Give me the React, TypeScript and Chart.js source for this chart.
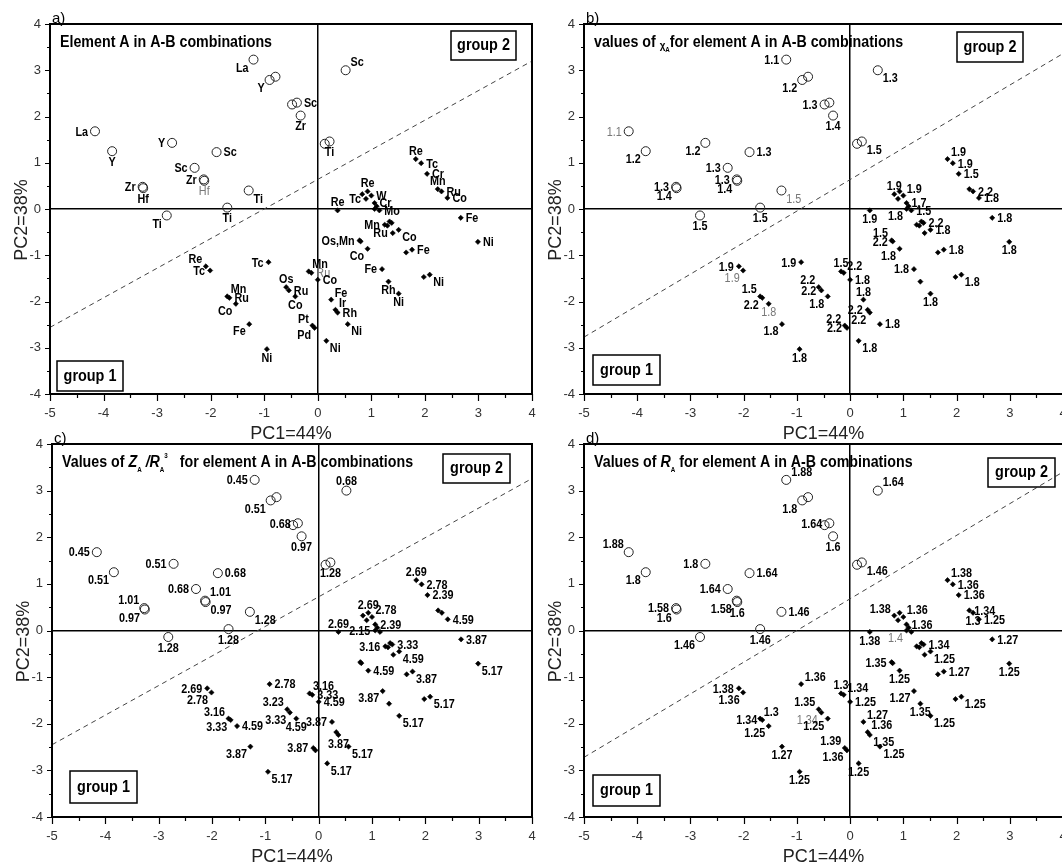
import React, { useEffect, useRef } from 'react';
import { Chart, registerables } from 'chart.js';

Chart.register(...registerables);

const FONT = "'Liberation Sans', Arial, Helvetica, sans-serif";

// ---------- axis ranges ----------
const xTickRange = [-5, 4];
const yTickRange = [-4, 4];

// ---------- open circles (A = La, Y, Sc, Zr, Hf, Ti) ----------
const openPC1 = [-1.20, -0.90, -0.79, -4.16, -3.84, -2.72, -1.89, -2.30, -2.13, -2.12, -3.27, -3.26, -1.29, -2.82, -1.69, 0.52, -0.48, -0.39, -0.32, 0.13, 0.22];
const openPC2 = [3.23, 2.79, 2.86, 1.68, 1.25, 1.43, 1.23, 0.89, 0.64, 0.61, 0.48, 0.45, 0.40, -0.14, 0.03, 3.00, 2.26, 2.30, 2.02, 1.41, 1.46];

// ---------- filled diamonds ----------
const filledPC1 = [
  1.83, 1.93, 2.04, 2.24, 2.31, 2.42,
  0.83, 0.93, 0.90, 1.00, 1.06, 1.10, 1.06, 1.15,
  0.37,
  1.25, 1.30, 1.34, 1.38, 1.40, 1.51,
  0.78, 0.93, 1.65, 1.76, 1.20, 1.32, 1.98, 2.09, 1.51, 2.67, 2.99,
  -0.92, -0.17, -0.12, 0.00, -0.59, -0.54, -0.42, 0.25, 0.33, 0.37, 0.56, -0.10, -0.06, 0.16, -0.95,
  -2.09, -2.01, -1.69, -1.65, -1.53, -1.28,
  0.80,
];
const filledPC2 = [
  1.08, 0.99, 0.76, 0.43, 0.38, 0.24,
  0.32, 0.38, 0.22, 0.29, 0.13, 0.06, 0.00, -0.03,
  -0.03,
  -0.34, -0.36, -0.27, -0.30, -0.52, -0.45,
  -0.68, -0.86, -0.94, -0.88, -1.30, -1.57, -1.47, -1.42, -1.83, -0.19, -0.71,
  -1.15, -1.35, -1.38, -1.53, -1.69, -1.76, -1.89, -1.96, -2.18, -2.24, -2.49, -2.52, -2.57, -2.85, -3.03,
  -1.24, -1.33, -1.89, -1.92, -2.05, -2.49,
  -0.70,
];

// ---------- dashed group boundary ----------
const boundaryPC1 = [-5, 4];
const boundaryA_PC2 = [-2.56, 3.2];
const boundaryB_PC2 = [-2.77, 3.36];
const boundaryC_PC2 = [-2.45, 3.26];
const boundaryD_PC2 = [-2.72, 3.40];

// ---------- point labels ----------
const labelsA_open = ['La', 'Y', '', 'La', 'Y', 'Y', 'Sc', 'Sc', 'Zr', 'Hf', 'Zr', 'Hf', 'Ti', 'Ti', 'Ti', 'Sc', '', 'Sc', 'Zr', '', 'Ti'];
const labelsB_open = ['1.1', '1.2', '', '1.1', '1.2', '1.2', '1.3', '1.3', '1.3', '1.4', '1.3', '1.4', '1.5', '1.5', '1.5', '1.3', '1.3', '', '1.4', '', '1.5'];
const labelsC_open = ['0.45', '0.51', '', '0.45', '0.51', '0.51', '0.68', '0.68', '1.01', '0.97', '1.01', '0.97', '1.28', '1.28', '1.28', '0.68', '', '0.68', '0.97', '', '1.28'];
const labelsD_open = ['1.88', '1.8', '', '1.88', '1.8', '1.8', '1.64', '1.64', '1.58', '1.6', '1.58', '1.6', '1.46', '1.46', '1.46', '1.64', '', '1.64', '1.6', '', '1.46'];

const labelsA_filled = [
  'Re', 'Tc', 'Cr', 'Mn', 'Ru', 'Co',
  '', 'Re', 'Tc', 'W', 'Cr', '', '', 'Mo',
  'Re',
  'Mn', '', '', '', 'Ru', 'Co',
  'Os,Mn', 'Co', '', 'Fe', 'Fe', 'Rh', '', 'Ni', 'Ni', 'Fe', 'Ni',
  'Tc', 'Mn', 'Ru', 'Co', 'Os', 'Ru', 'Co', 'Fe', 'Ir', 'Rh', 'Ni', 'Pt', 'Pd', 'Ni', 'Ni',
  'Re', 'Tc', 'Mn', 'Ru', 'Co', 'Fe',
  '',
];
const labelsB_filled = [
  '1.9', '1.9', '1.5', '', '2.2', '1.8',
  '1.9', '', '', '1.9', '1.7', '', '1.8', '1.5',
  '1.9',
  '', '', '', '2.2', '', '1.8',
  '1.5', '1.8', '', '1.8', '1.8', '', '', '1.8', '1.8', '1.8', '1.8',
  '1.9', '1.5', '2.2', '1.8', '2.2', '2.2', '1.8', '1.8', '2.2', '2.2', '1.8', '2.2', '2.2', '1.8', '1.8',
  '1.9', '1.9', '1.5', '2.2', '1.8', '1.8',
  '2.2',
];
const labelsC_filled = [
  '2.69', '2.78', '2.39', '', '', '4.59',
  '', '2.69', '', '2.78', '2.39', '', '2.15', '',
  '2.69',
  '3.16', '', '', '3.33', '', '4.59',
  '', '4.59', '', '3.87', '3.87', '', '', '5.17', '5.17', '3.87', '5.17',
  '2.78', '3.16', '3.33', '4.59', '3.23', '3.33', '4.59', '3.87', '', '3.87', '5.17', '3.87', '', '5.17', '5.17',
  '2.69', '2.78', '3.16', '3.33', '4.59', '3.87',
  '',
];
const labelsD_filled = [
  '1.38', '1.36', '1.36', '1.34', '1.3', '1.25',
  '1.38', '', '', '1.36', '1.36', '', '1.4', '',
  '1.38',
  '', '', '', '1.34', '', '1.25',
  '1.35', '1.25', '', '1.27', '1.27', '1.35', '', '1.25', '1.25', '1.27', '1.25',
  '1.36', '1.3', '1.34', '1.25', '1.35', '1.34', '1.25', '1.27', '1.36', '1.35', '1.25', '1.39', '1.36', '1.25', '1.25',
  '1.38', '1.36', '1.3', '1.34', '1.25', '1.27',
  '',
];

// ---------- label placement (r, l, t, b, tr, tl, br, bl) ----------
const placeA_open = ['bl', 'bl', '', 'l', 'b', 'l', 'r', 'l', 'l', 'b', 'l', 'b', 'br', 'bl', 'b', 'tr', '', 'r', 'b', '', 'b'];
const placeB_open = ['l', 'bl', '', 'l', 'bl', 'bl', 'r', 'l', 'l', 'bl', 'l', 'bl', 'br', 'b', 'b', 'br', 'l', '', 'b', '', 'br'];
const placeC_open = ['l', 'bl', '', 'l', 'bl', 'l', 'r', 'l', 'tr', 'br', 'tl', 'bl', 'br', 'b', 'b', 't', '', 'l', 'b', '', 'b'];
const placeD_open = ['tr', 'bl', '', 'tl', 'bl', 'l', 'r', 'l', 'bl', 'b', 'l', 'bl', 'r', 'bl', 'b', 'tr', '', 'l', 'b', '', 'br'];

const placeA_filled = [
  't', 'r', 'r', 't', 'r', 'r',
  '', 't', 'l', 'r', 'r', '', '', 'r',
  't',
  'l', '', '', '', 'l', 'br',
  'l', 'bl', '', 'r', 'l', 'b', '', 'br', 'b', 'r', 'r',
  'l', 'tr', 'r', 'r', 't', 'r', 'b', 'tr', 'tr', 'r', 'br', 'tl', 'bl', 'br', 'b',
  'tl', 'l', 'tr', 'r', 'bl', 'bl',
  '',
];
const placeB_filled = [
  'tr', 'r', 'r', '', 'r', 'r',
  't', '', '', 'tr', 'r', '', 'bl', 'r',
  'b',
  '', '', '', 'r', '', 'r',
  'tl', 'bl', '', 'r', 'l', '', '', 'br', 'b', 'r', 'b',
  'l', 't', 'tr', 'r', 'tl', 'l', 'bl', 't', 'l', 'bl', 'r', 'tl', 'l', 'br', 'b',
  'l', 'bl', 'tl', 'bl', 'b', 'bl',
  'l',
];
const placeC_filled = [
  't', 'r', 'r', '', '', 'r',
  '', 't', '', 'tr', 'r', '', 'l', '',
  't',
  'l', '', '', 'r', '', 'br',
  '', 'r', '', 'br', 'bl', '', '', 'br', 'br', 'r', 'br',
  'r', 'tr', 'r', 'r', 'tl', 'bl', 'b', 'l', '', 'b', 'br', 'l', '', 'br', 'br',
  'l', 'bl', 'tl', 'bl', 'r', 'bl',
  '',
];
const placeD_filled = [
  'tr', 'r', 'r', 'r', 'b', 'r',
  'tl', '', '', 'tr', 'r', '', 'bl', '',
  'b',
  '', '', '', 'r', '', 'br',
  'l', 'b', '', 'r', 'bl', 'b', '', 'br', 'br', 'r', 'b',
  'tr', 't', 'tr', 'r', 'tl', 'bl', 'bl', 'tr', 'tr', 'br', 'br', 'tl', 'bl', 'b', 'b',
  'l', 'bl', 'tr', 'l', 'bl', 'b',
  '',
];

// labels printed in grey, normal weight
const grayA_open = [9];
const grayA_filled = [34];
const grayB_open = [3, 12];
const grayB_filled = [48, 51];
const grayC_open: number[] = [];
const grayC_filled: number[] = [];
const grayD_open: number[] = [];
const grayD_filled = [12, 37];

// ---------- titles ----------
type Run = { t: string; k: 'b' | 'bi' | 'sub' | 'sup' | 'chi' };
const titleA: Run[] = [{ t: 'Element A in A-B combinations', k: 'b' }];
const titleB: Run[] = [
  { t: 'values of ', k: 'b' }, { t: 'χ', k: 'chi' }, { t: 'A', k: 'sub' },
  { t: 'for element A in A-B combinations', k: 'b' },
];
const titleC: Run[] = [
  { t: 'Values of ', k: 'b' }, { t: 'Z', k: 'bi' }, { t: 'A', k: 'sub' }, { t: ' /', k: 'bi' },
  { t: 'R', k: 'bi' }, { t: 'A', k: 'sub' }, { t: '3', k: 'sup' },
  { t: '   for element A in A-B combinations', k: 'b' },
];
const titleD: Run[] = [
  { t: 'Values of ', k: 'b' }, { t: 'R', k: 'bi' }, { t: 'A', k: 'sub' },
  { t: ' for element A in A-B combinations', k: 'b' },
];

const xTitle = 'PC1=44%';
const yTitle = 'PC2=38%';

type Panel = {
  key: string; left: number; top: number; w: number; h: number;
  padTop: number; padRight: number; yW: number; xH: number;
  letter: string; title: Run[]; boundary: number[];
  g2: number[]; g1: number[];
  lo: string[]; po: string[]; go: number[];
  lf: string[]; pf: string[]; gf: number[];
};

const panels: Panel[] = [
  { key: 'a', left: 0, top: 0, w: 540, h: 445, padTop: 24, padRight: 8, yW: 50, xH: 51, letter: 'a)', title: titleA, boundary: boundaryA_PC2,
    g2: [401, 7, 65, 29], g1: [7, 337, 66, 30],
    lo: labelsA_open, po: placeA_open, go: grayA_open, lf: labelsA_filled, pf: placeA_filled, gf: grayA_filled },
  { key: 'b', left: 531, top: 0, w: 540, h: 445, padTop: 24, padRight: 8, yW: 53, xH: 51, letter: 'b)', title: titleB, boundary: boundaryB_PC2,
    g2: [373, 8, 66, 30], g1: [9, 331, 67, 30],
    lo: labelsB_open, po: placeB_open, go: grayB_open, lf: labelsB_filled, pf: placeB_filled, gf: grayB_filled },
  { key: 'c', left: 0, top: 420, w: 540, h: 445, padTop: 24, padRight: 8, yW: 52, xH: 48, letter: 'c)', title: titleC, boundary: boundaryC_PC2,
    g2: [391, 10, 67, 29], g1: [18, 327, 67, 32],
    lo: labelsC_open, po: placeC_open, go: grayC_open, lf: labelsC_filled, pf: placeC_filled, gf: grayC_filled },
  { key: 'd', left: 531, top: 420, w: 540, h: 445, padTop: 24, padRight: 8, yW: 53, xH: 48, letter: 'd)', title: titleD, boundary: boundaryD_PC2,
    g2: [404, 14, 67, 29], g1: [9, 331, 67, 31],
    lo: labelsD_open, po: placeD_open, go: grayD_open, lf: labelsD_filled, pf: placeD_filled, gf: grayD_filled },
];

const SX = 0.9;

function drawText(ctx: CanvasRenderingContext2D, s: string, x: number, y: number, align: CanvasTextAlign, sx: number) {
  ctx.save();
  ctx.translate(x, y);
  ctx.scale(sx, 1);
  ctx.textAlign = align;
  ctx.textBaseline = 'alphabetic';
  ctx.fillText(s, 0, 0);
  ctx.restore();
}

function drawRuns(ctx: CanvasRenderingContext2D, runs: Run[], x: number, y: number) {
  const sx = 0.89;
  let cx = x;
  for (const r of runs) {
    let font = `bold 16px ${FONT}`;
    let dy = 0;
    if (r.k === 'bi') font = `italic bold 16px ${FONT}`;
    else if (r.k === 'sub') { font = `bold 7px ${FONT}`; dy = 5; }
    else if (r.k === 'sup') { font = `bold 7px ${FONT}`; dy = -9; }
    else if (r.k === 'chi') { font = `bold 11px ${FONT}`; dy = 2; }
    ctx.font = font;
    const w = ctx.measureText(r.t).width * sx;
    drawText(ctx, r.t, cx, y + dy, 'left', sx);
    cx += w;
  }
}

function labelPos(pos: string, x: number, y: number, d: number, fs: number): [number, number, CanvasTextAlign] {
  const mid = 0.36 * fs;
  const cap = 0.72 * fs;
  switch (pos) {
    case 'r': return [x + d, y + mid, 'left'];
    case 'l': return [x - d, y + mid, 'right'];
    case 't': return [x, y - d + 1, 'center'];
    case 'b': return [x, y + d + cap - 1, 'center'];
    case 'tr': return [x + d * 0.7, y - d * 0.6, 'left'];
    case 'tl': return [x - d * 0.7, y - d * 0.6, 'right'];
    case 'br': return [x + d * 0.7, y + d * 0.5 + cap, 'left'];
    case 'bl': return [x - d * 0.7, y + d * 0.5 + cap, 'right'];
    default: return [x + d, y + mid, 'left'];
  }
}

function makeDecor(p: Panel) {
  return {
    id: 'decor_' + p.key,
    afterDraw(chart: any) {
      const ctx: CanvasRenderingContext2D = chart.ctx;
      const a = chart.chartArea;
      const xs = chart.scales.x;
      const ys = chart.scales.y;
      ctx.save();

      // tick marks (major + minor)
      ctx.strokeStyle = '#000';
      ctx.lineWidth = 1.2;
      ctx.beginPath();
      for (let v = xTickRange[0]; v <= xTickRange[1] + 1e-9; v += 0.5) {
        const px = Math.round(xs.getPixelForValue(v)) + 0.5;
        const major = Math.abs(v - Math.round(v)) < 1e-9;
        ctx.moveTo(px, a.bottom);
        ctx.lineTo(px, a.bottom + (major ? 7 : 4));
      }
      for (let v = yTickRange[0]; v <= yTickRange[1] + 1e-9; v += 0.5) {
        const py = Math.round(ys.getPixelForValue(v)) + 0.5;
        const major = Math.abs(v - Math.round(v)) < 1e-9;
        ctx.moveTo(a.left, py);
        ctx.lineTo(a.left - (major ? 5 : 3), py);
      }
      ctx.stroke();

      // frame
      ctx.lineWidth = 2;
      ctx.strokeStyle = '#000';
      ctx.strokeRect(a.left, a.top, a.right - a.left, a.bottom - a.top);

      // axis titles
      ctx.fillStyle = '#222';
      ctx.font = `18px ${FONT}`;
      drawText(ctx, xTitle, (a.left + a.right) / 2, a.bottom + 45, 'center', 1);
      ctx.save();
      ctx.translate(a.left - 23, (a.top + a.bottom) / 2 + 11);
      ctx.rotate(-Math.PI / 2);
      drawText(ctx, yTitle, 0, 0, 'center', 1);
      ctx.restore();

      // panel letter
      ctx.fillStyle = '#000';
      ctx.font = `15px ${FONT}`;
      drawText(ctx, p.letter, a.left + 2, a.top - 1, 'left', 1);

      // title
      drawRuns(ctx, p.title, a.left + 10, a.top + 22.5);

      // group boxes
      const box = (r: number[], s: string) => {
        const bx = a.left + r[0], by = a.top + r[1];
        ctx.lineWidth = 1.5;
        ctx.strokeStyle = '#000';
        ctx.strokeRect(bx, by, r[2], r[3]);
        ctx.font = `bold 16px ${FONT}`;
        drawText(ctx, s, bx + r[2] / 2, by + r[3] / 2 + 4.5, 'center', SX);
      };
      box(p.g2, 'group 2');
      box(p.g1, 'group 1');

      // point labels
      const fs = 12;
      const drawLabels = (di: number, texts: string[], places: string[], grays: number[], d: number) => {
        const meta = chart.getDatasetMeta(di);
        texts.forEach((t, i) => {
          if (!t) return;
          const el = meta.data[i];
          if (!el) return;
          const [lx, ly, al] = labelPos(places[i], el.x, el.y, d, fs);
          const g = grays.indexOf(i) >= 0;
          ctx.fillStyle = g ? '#777' : '#000';
          ctx.font = `${g ? '' : 'bold '}${fs}px ${FONT}`;
          drawText(ctx, t, lx, ly, al, SX);
        });
      };
      drawLabels(0, p.lo, p.po, p.go, 7);
      drawLabels(1, p.lf, p.pf, p.gf, 5);

      ctx.restore();
    },
  };
}

function buildConfig(p: Panel): any {
  const tickFont = { family: FONT, size: 13 };
  const zeroColor = (c: any) => (c.tick && c.tick.value === 0 ? '#000' : 'rgba(0,0,0,0)');
  return {
    type: 'scatter',
    data: {
      datasets: [
        {
          label: 'A-rich',
          data: openPC1.map((x, i) => ({ x, y: openPC2[i] })),
          pointStyle: 'circle',
          pointRadius: 4.5,
          pointBorderWidth: 1,
          pointBorderColor: '#222',
          pointBackgroundColor: 'rgba(255,255,255,0)',
          order: 1,
        },
        {
          label: 'B-rich',
          data: filledPC1.map((x, i) => ({ x, y: filledPC2[i] })),
          pointStyle: 'rectRot',
          pointRadius: 2.6,
          pointBorderWidth: 0.6,
          pointBorderColor: '#000',
          pointBackgroundColor: '#000',
          order: 0,
        },
        {
          type: 'line',
          label: 'boundary',
          data: boundaryPC1.map((x, i) => ({ x, y: p.boundary[i] })),
          borderColor: '#444',
          borderWidth: 1,
          borderDash: [5, 4],
          pointRadius: 0,
          fill: false,
          order: 5,
        },
      ],
    },
    options: {
      responsive: false,
      animation: false,
      devicePixelRatio: 1,
      events: [],
      layout: { padding: { top: p.padTop, right: p.padRight, left: 0, bottom: 0 }, autoPadding: false },
      plugins: { legend: { display: false }, tooltip: { enabled: false }, title: { display: false } },
      scales: {
        x: {
          type: 'linear', position: 'bottom', min: xTickRange[0], max: xTickRange[1],
          ticks: { stepSize: 1, font: tickFont, color: '#333', padding: 12, autoSkip: false, maxRotation: 0 },
          grid: { drawTicks: false, color: zeroColor, lineWidth: 1.5 },
          border: { display: false },
          afterFit: (s: any) => { s.height = p.xH; s.paddingLeft = 0; s.paddingRight = 0; },
        },
        y: {
          type: 'linear', position: 'left', min: yTickRange[0], max: yTickRange[1],
          ticks: { stepSize: 1, font: tickFont, color: '#333', padding: 9, autoSkip: false },
          grid: { drawTicks: false, color: zeroColor, lineWidth: 1.5 },
          border: { display: false },
          afterFit: (s: any) => { s.width = p.yW; s.paddingTop = 0; s.paddingBottom = 0; },
        },
      },
    },
    plugins: [makeDecor(p)],
  };
}

function PanelChart({ p }: { p: Panel }) {
  const ref = useRef<HTMLCanvasElement>(null);
  useEffect(() => {
    if (!ref.current) return;
    const chart = new Chart(ref.current, buildConfig(p));
    return () => chart.destroy();
  }, [p]);
  return (
    <canvas
      ref={ref}
      width={p.w}
      height={p.h}
      style={{ position: 'absolute', left: p.left, top: p.top, width: p.w, height: p.h }}
    />
  );
}

export default function App() {
  return (
    <div style={{ position: 'absolute', left: 0, top: 0, width: 1062, height: 865, overflow: 'hidden', background: '#fff' }}>
      {panels.map((p) => (
        <PanelChart key={p.key} p={p} />
      ))}
    </div>
  );
}
